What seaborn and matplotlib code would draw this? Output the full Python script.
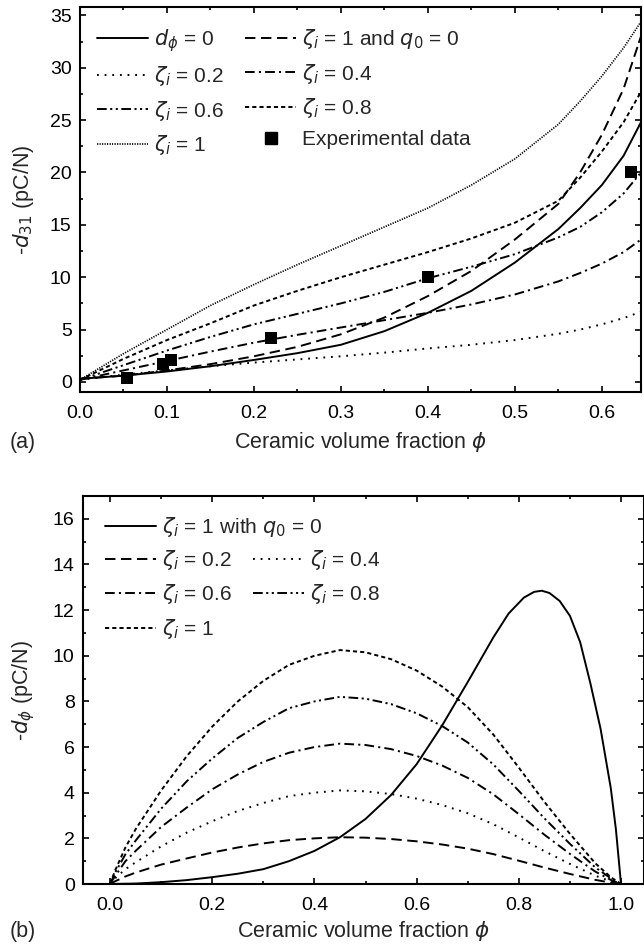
import numpy as np
import pandas as pd
import matplotlib
matplotlib.use("Agg")
import matplotlib.pyplot as plt
import seaborn as sns
from matplotlib.lines import Line2D
from matplotlib.ticker import MultipleLocator

sns.set_theme(style="ticks")
plt.rcParams['font.family'] = ['Liberation Sans', 'DejaVu Sans']
plt.rcParams['mathtext.fontset'] = 'dejavusans'
plt.rcParams['lines.scale_dashes'] = False

# ---------------- data: panel (a) ----------------
phi_a = [0, 0.05, 0.1, 0.15, 0.2, 0.25, 0.3, 0.35, 0.4, 0.45, 0.5, 0.55, 0.575, 0.6, 0.625, 0.645]
d31_dphi0 = [0.3, 0.6, 1.0, 1.5, 2.1, 2.75, 3.55, 4.85, 6.6, 8.7, 11.4, 14.6, 16.6, 18.8, 21.6, 24.8]
d31_q0 = [0.3, 0.6, 1.1, 1.7, 2.45, 3.35, 4.55, 6.15, 8.2, 10.6, 13.6, 17.0, 20.0, 23.6, 28.0, 33.0]
d31_z02 = [0.2, 0.7, 1.1, 1.5, 1.85, 2.15, 2.45, 2.8, 3.2, 3.55, 4.0, 4.6, 5.0, 5.5, 6.1, 6.7]
d31_z04 = [0.2, 1.1, 2.0, 2.9, 3.75, 4.5, 5.2, 5.9, 6.6, 7.4, 8.35, 9.6, 10.4, 11.3, 12.4, 13.6]
d31_z06 = [0.2, 1.6, 3.0, 4.3, 5.5, 6.5, 7.5, 8.6, 9.9, 11.0, 12.2, 13.8, 14.8, 16.2, 18.0, 20.0]
d31_z08 = [0.2, 2.2, 4.0, 5.6, 7.3, 8.7, 10.0, 11.2, 12.4, 13.7, 15.2, 17.3, 19.5, 22.0, 24.8, 27.7]
d31_z10 = [0.2, 2.7, 5.0, 7.3, 9.3, 11.2, 13.0, 14.8, 16.6, 18.8, 21.3, 24.6, 26.8, 29.2, 31.9, 34.4]
exp_phi = [0.054, 0.095, 0.105, 0.22, 0.40, 0.633]
exp_d31 = [0.35, 1.75, 2.1, 4.2, 10.0, 20.0]

# ---------------- data: panel (b) ----------------
phi_b = [0, 0.01, 0.03, 0.05, 0.1, 0.15, 0.2, 0.25, 0.3, 0.35, 0.4, 0.45, 0.5,
         0.55, 0.6, 0.65, 0.7, 0.75, 0.8, 0.85, 0.9, 0.95, 0.98, 1.0]
dphi_z02 = [0, 0.12, 0.33, 0.5, 0.85, 1.12, 1.38, 1.6, 1.78, 1.92, 2.0, 2.05, 2.03,
            1.97, 1.87, 1.73, 1.55, 1.31, 1.02, 0.72, 0.44, 0.18, 0.06, 0]
dphi_z04 = [0, 0.25, 0.65, 0.95, 1.65, 2.25, 2.75, 3.2, 3.55, 3.85, 4.0, 4.1, 4.06,
            3.94, 3.74, 3.46, 3.1, 2.62, 2.04, 1.44, 0.88, 0.36, 0.12, 0]
dphi_z06 = [0, 0.35, 1.0, 1.45, 2.5, 3.35, 4.15, 4.8, 5.35, 5.75, 6.0, 6.15, 6.09,
            5.91, 5.61, 5.19, 4.65, 3.93, 3.06, 2.16, 1.32, 0.54, 0.18, 0]
dphi_z08 = [0, 0.5, 1.3, 1.9, 3.3, 4.5, 5.5, 6.4, 7.1, 7.7, 8.0, 8.2, 8.12,
            7.88, 7.48, 6.92, 6.2, 5.24, 4.08, 2.88, 1.76, 0.72, 0.25, 0]
dphi_z10 = [0, 0.6, 1.6, 2.4, 4.1, 5.6, 6.9, 8.0, 8.9, 9.6, 10.0, 10.25, 10.15,
            9.85, 9.35, 8.65, 7.75, 6.55, 5.1, 3.6, 2.2, 0.9, 0.3, 0]
phi_b_q0 = [0, 0.05, 0.1, 0.15, 0.2, 0.25, 0.3, 0.35, 0.4, 0.45, 0.5, 0.55, 0.6, 0.65,
            0.7, 0.75, 0.78, 0.81, 0.83, 0.845, 0.86, 0.88, 0.9, 0.92, 0.94, 0.96,
            0.98, 0.99, 1.0]
dphi_q0 = [0, 0.02, 0.08, 0.17, 0.3, 0.45, 0.65, 1.0, 1.45, 2.05, 2.85, 3.9, 5.25, 6.95,
           8.85, 10.8, 11.85, 12.55, 12.8, 12.85, 12.75, 12.4, 11.75, 10.6, 8.8, 6.8,
           4.2, 2.4, 0]

# ---------------- styles ----------------
LW = 1.4
STY = {
    'solid': dict(linestyle='-', lw=LW),
    'dash': dict(linestyle=(0, (7.5, 4)), lw=LW),
    'dot': dict(linestyle=(0, (1.3, 4.2)), lw=LW),
    'dashdot': dict(linestyle=(0, (7, 3, 1.5, 3)), lw=LW),
    'dashdotdot': dict(linestyle=(0, (7, 2.5, 1.5, 2.5, 1.5, 2.5)), lw=LW),
    'short': dict(linestyle=(0, (3, 2.2)), lw=LW),
    'fine': dict(linestyle=(0, (0.9, 0.9)), lw=1.2),
}

W, H = 644, 947
fig = plt.figure(figsize=(W / 100, H / 100), dpi=100)


def axes_px(l, t, r, b):
    return fig.add_axes([l / W, 1 - b / H, (r - l) / W, (b - t) / H])


axA = axes_px(80, 7, 641, 392)
axB = axes_px(83, 496, 644, 884)

TICK_FS = 14
LAB_FS = 15.5
LEG_FS = 15


def style_axes(ax):
    for s in ax.spines.values():
        s.set_linewidth(1.5)
        s.set_color('black')
    ax.tick_params(which='both', direction='in', top=True, right=True,
                   colors='black', width=1.2)
    ax.tick_params(which='major', length=4.5, labelsize=TICK_FS)
    ax.tick_params(which='minor', length=2.5)
    ax.tick_params(axis='x', which='major', pad=9)
    ax.tick_params(axis='y', which='major', pad=6)
    ax.set_facecolor('white')


def line(ax, x, y, key):
    sns.lineplot(x=x, y=y, ax=ax, color='black', estimator=None, sort=False,
                 **STY[key])


# ---- panel (a) ----
line(axA, phi_a, d31_dphi0, 'solid')
line(axA, phi_a, d31_q0, 'dash')
line(axA, phi_a, d31_z02, 'dot')
line(axA, phi_a, d31_z04, 'dashdot')
line(axA, phi_a, d31_z06, 'dashdotdot')
line(axA, phi_a, d31_z08, 'short')
line(axA, phi_a, d31_z10, 'fine')
sns.scatterplot(x=exp_phi, y=exp_d31, ax=axA, marker='s', s=75, color='black',
                edgecolor='black', linewidth=0, zorder=5)
axA.set_xlim(0, 0.645)
axA.set_ylim(-0.96, 35.8)
axA.xaxis.set_major_locator(MultipleLocator(0.1))
axA.xaxis.set_minor_locator(MultipleLocator(0.05))
axA.yaxis.set_major_locator(MultipleLocator(5))
axA.yaxis.set_minor_locator(MultipleLocator(2.5))
style_axes(axA)
axA.set_xlabel(r'Ceramic volume fraction $\phi$', fontsize=LAB_FS)
axA.set_ylabel(r'-$d_{31}$ (pC/N)', fontsize=LAB_FS)
axA.xaxis.set_label_coords(0.5, -(442 - 392) / 385)
axA.xaxis.label.set_va('center')
axA.yaxis.set_label_coords(-(80 - 24) / 561, 0.5)
axA.yaxis.label.set_va('center')

# ---- panel (b) ----
line(axB, phi_b_q0, dphi_q0, 'solid')
line(axB, phi_b, dphi_z02, 'dash')
line(axB, phi_b, dphi_z04, 'dot')
line(axB, phi_b, dphi_z06, 'dashdot')
line(axB, phi_b, dphi_z08, 'dashdotdot')
line(axB, phi_b, dphi_z10, 'short')
axB.set_xlim(-0.053, 1.045)
axB.set_ylim(0, 17)
axB.xaxis.set_major_locator(MultipleLocator(0.2))
axB.xaxis.set_minor_locator(MultipleLocator(0.1))
axB.yaxis.set_major_locator(MultipleLocator(2))
axB.yaxis.set_minor_locator(MultipleLocator(1))
style_axes(axB)
axB.set_xlabel(r'Ceramic volume fraction $\phi$', fontsize=LAB_FS)
axB.set_ylabel(r'-$d_\phi$ (pC/N)', fontsize=LAB_FS)
axB.xaxis.set_label_coords(0.5, -(931 - 884) / 388)
axB.xaxis.label.set_va('center')
axB.yaxis.set_label_coords(-(83 - 24) / 561, 0.5)
axB.yaxis.label.set_va('center')

fig.text(10 / W, 1 - 442 / H, '(a)', fontsize=LAB_FS, va='center', ha='left')
fig.text(10 / W, 1 - 931 / H, '(b)', fontsize=LAB_FS, va='center', ha='left')


# ---------------- legends ----------------
def h(key):
    return Line2D([], [], color='black', **STY[key])


exp_handle = Line2D([], [], marker='s', ls='none', color='black', ms=9)
ZI = r'$\zeta_i$'

HL = 2.45
HTP = 0.3
FS_PX = LEG_FS * 100 / 72


def make_legend(ax, handles, labels, ncol, x_px, y_px, colsp=1.5):
    return ax.legend(handles, labels, ncol=ncol, loc='upper left',
                     bbox_to_anchor=(x_px / W, 1 - y_px / H),
                     bbox_transform=fig.transFigure, frameon=False,
                     fontsize=LEG_FS, handlelength=HL, handletextpad=HTP,
                     borderpad=0, borderaxespad=0, labelspacing=0.5,
                     columnspacing=colsp)


def fit_colspacing(leg, n_first_col, col2_x):
    fig.canvas.draw()
    r = fig.canvas.get_renderer()
    texts = leg.get_texts()[:n_first_col]
    right = max(t.get_window_extent(r).x1 for t in texts)
    return max(0.1, (col2_x - right) / FS_PX)


handlesA = [h('solid'), h('dot'), h('dashdotdot'), h('fine'),
            h('dash'), h('dashdot'), h('short'), exp_handle]
labelsA = [r'$d_\phi$ = 0', ZI + ' = 0.2', ZI + ' = 0.6', ZI + ' = 1',
           ZI + ' = 1 and $q_0$ = 0', ZI + ' = 0.4', ZI + ' = 0.8', 'Experimental data']
legA = make_legend(axA, handlesA, labelsA, 2, 97, 27)
cs = fit_colspacing(legA, 4, 245)
legA.remove()
legA = make_legend(axA, handlesA, labelsA, 2, 97, 27, cs)

legB1 = make_legend(axB, [h('solid')], [ZI + ' = 1 with $q_0$ = 0'], 1, 105, 515)
axB.add_artist(legB1)
handlesB = [h('dash'), h('dashdot'), h('short'), h('dot'), h('dashdotdot')]
labelsB = [ZI + ' = 0.2', ZI + ' = 0.6', ZI + ' = 1', ZI + ' = 0.4', ZI + ' = 0.8']
legB2 = make_legend(axB, handlesB, labelsB, 2, 105, 548)
cs = fit_colspacing(legB2, 3, 253)
legB2.remove()
legB2 = make_legend(axB, handlesB, labelsB, 2, 105, 548, cs)

fig.savefig('out.png', dpi=100, facecolor='white')
